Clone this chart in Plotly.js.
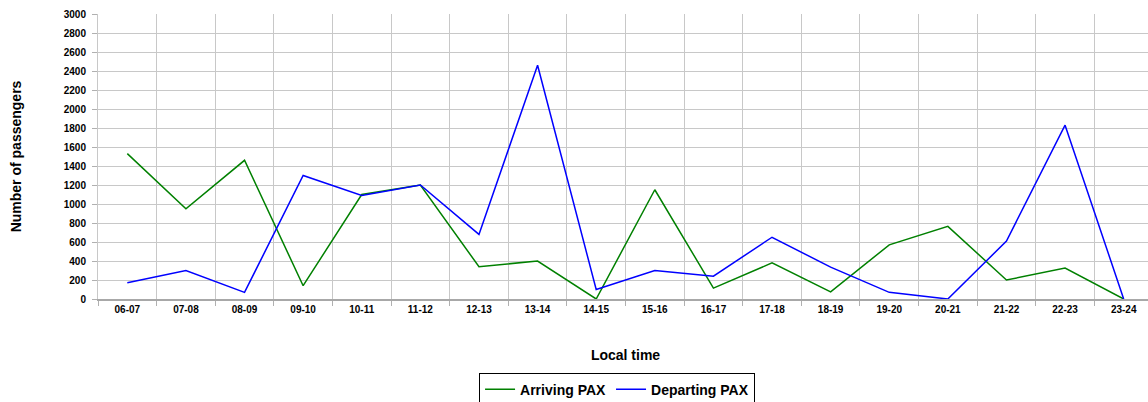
<!DOCTYPE html>
<html>
<head>
<meta charset="utf-8">
<script src="https://cdn.plot.ly/plotly-3.0.1.min.js"></script>
<style>
html,body{margin:0;padding:0;overflow:hidden;background:#fff;width:1148px;height:402px;}
#chart{width:1154px;height:402px;}
</style>
</head>
<body>
<div id="chart"></div>
<script>
const categories = ["06-07","07-08","08-09","09-10","10-11","11-12","12-13","13-14","14-15","15-16","16-17","17-18","18-19","19-20","20-21","21-22","22-23","23-24"];
const arrivingPAX = [1530, 950, 1460, 140, 1100, 1200, 340, 400, 0, 1150, 115, 380, 75, 570, 765, 200, 325, 0];
const departingPAX = [170, 300, 70, 1300, 1090, 1200, 680, 2460, 100, 300, 240, 650, 335, 70, 0, 610, 1830, 0];

const boldFont = "Liberation Sans, Arial, sans-serif";

const traces = [
  {x: categories, y: arrivingPAX, type: "scatter", mode: "lines", name: "Arriving PAX",
   line: {color: "#008000", width: 1.5}},
  {x: categories, y: departingPAX, type: "scatter", mode: "lines", name: "Departing PAX",
   line: {color: "#0000ff", width: 1.5}}
];

const layout = {
  width: 1154, height: 402,
  margin: {l: 98, r: 1, t: 14, b: 103, autoexpand: false},
  paper_bgcolor: "#ffffff", plot_bgcolor: "#ffffff",
  font: {family: boldFont, color: "#000", weight: "bold"},
  showlegend: true,
  legend: {orientation: "h", x: 0.492, xanchor: "center", yref: "container", y: 0.073, yanchor: "top",
    bordercolor: "#000", borderwidth: 1, font: {size: 14, family: boldFont, weight: "bold"},
    itemwidth: 30, tracegroupgap: 0},
  xaxis: {type: "category", range: [-0.5, 17.5], tickson: "boundaries",
    showgrid: true, gridcolor: "#c8c8c8", gridwidth: 1,
    ticks: "outside", ticklen: 5, tickcolor: "#b0b0b0",
    showline: true, linecolor: "#a8a8a8", linewidth: 1.5,
    tickfont: {size: 10, family: boldFont, weight: "bold"},
    title: {text: "Local time", font: {size: 14, family: boldFont, weight: "bold"}, standoff: 36},
    automargin: false, zeroline: false},
  yaxis: {range: [0, 3000], dtick: 200, tick0: 0,
    showgrid: true, gridcolor: "#c8c8c8", gridwidth: 1,
    ticks: "outside", ticklen: 5, tickcolor: "#b0b0b0",
    showline: true, linecolor: "#c8c8c8", linewidth: 1,
    tickfont: {size: 10, family: boldFont, weight: "bold"},
    ticklabelstandoff: 4,
    title: {text: "Number of passengers", font: {size: 14, family: boldFont, weight: "bold"}, standoff: 38},
    automargin: false, zeroline: false}
};

Plotly.newPlot("chart", traces, layout, {displayModeBar: false, staticPlot: true});
</script>
</body>
</html>
